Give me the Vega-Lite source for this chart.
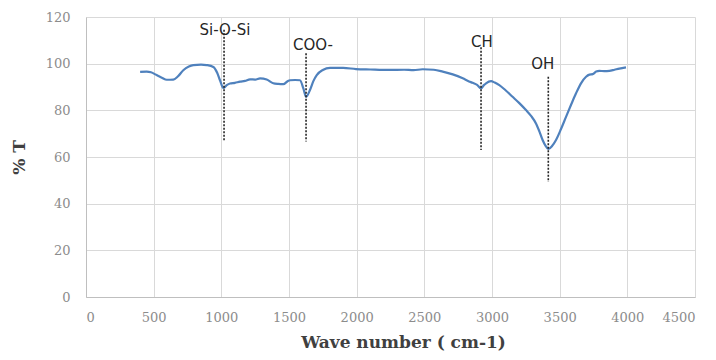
{
  "$schema": "https://vega.github.io/schema/vega-lite/v6.json",
  "width": 609,
  "height": 280,
  "autosize": "none",
  "padding": {"left": 86, "top": 17, "right": 21, "bottom": 63},
  "background": "white",
  "config": {
    "view": {"stroke": null},
    "axis": {
      "gridColor": "#d9d9d9",
      "gridWidth": 1,
      "domainColor": "#bfbfbf",
      "ticks": false,
      "labelFont": "DejaVu Serif",
      "labelFontSize": 13,
      "labelColor": "#8c8c8c",
      "titleFont": "DejaVu Serif",
      "titleFontWeight": "bold",
      "titleFontSize": 17,
      "titleColor": "#404040"
    }
  },
  "datasets": {
    "spectrum": [
      {"wn": 400, "t": 96.5}, {"wn": 448, "t": 96.6}, {"wn": 480, "t": 96.3},
      {"wn": 522, "t": 95.1}, {"wn": 560, "t": 94.0}, {"wn": 597, "t": 93.1},
      {"wn": 645, "t": 93.2}, {"wn": 680, "t": 94.6}, {"wn": 719, "t": 97.2},
      {"wn": 760, "t": 98.8}, {"wn": 793, "t": 99.4}, {"wn": 850, "t": 99.6},
      {"wn": 891, "t": 99.4}, {"wn": 941, "t": 98.6}, {"wn": 970, "t": 96.0},
      {"wn": 990, "t": 92.9}, {"wn": 1015, "t": 89.6}, {"wn": 1040, "t": 90.8},
      {"wn": 1064, "t": 91.5}, {"wn": 1100, "t": 91.8}, {"wn": 1138, "t": 92.3},
      {"wn": 1175, "t": 92.6}, {"wn": 1212, "t": 93.3}, {"wn": 1250, "t": 93.2},
      {"wn": 1286, "t": 93.7}, {"wn": 1335, "t": 93.2}, {"wn": 1384, "t": 91.6},
      {"wn": 1420, "t": 91.3}, {"wn": 1458, "t": 91.2}, {"wn": 1490, "t": 92.5},
      {"wn": 1508, "t": 92.9}, {"wn": 1545, "t": 93.0}, {"wn": 1581, "t": 92.9},
      {"wn": 1606, "t": 89.4}, {"wn": 1626, "t": 85.8}, {"wn": 1655, "t": 88.7},
      {"wn": 1680, "t": 92.5}, {"wn": 1705, "t": 95.1}, {"wn": 1750, "t": 97.3},
      {"wn": 1803, "t": 98.2}, {"wn": 1900, "t": 98.2}, {"wn": 1995, "t": 97.7},
      {"wn": 2100, "t": 97.5}, {"wn": 2241, "t": 97.3}, {"wn": 2350, "t": 97.4},
      {"wn": 2420, "t": 97.2}, {"wn": 2488, "t": 97.6}, {"wn": 2570, "t": 97.4},
      {"wn": 2636, "t": 96.6}, {"wn": 2710, "t": 95.4}, {"wn": 2784, "t": 93.7},
      {"wn": 2830, "t": 92.4}, {"wn": 2857, "t": 91.8}, {"wn": 2890, "t": 90.9},
      {"wn": 2919, "t": 89.4}, {"wn": 2940, "t": 90.8}, {"wn": 2956, "t": 91.6},
      {"wn": 2993, "t": 92.5}, {"wn": 3020, "t": 91.9}, {"wn": 3054, "t": 90.8},
      {"wn": 3100, "t": 88.6}, {"wn": 3152, "t": 85.8}, {"wn": 3200, "t": 83.2},
      {"wn": 3251, "t": 80.1}, {"wn": 3290, "t": 77.5}, {"wn": 3325, "t": 74.4},
      {"wn": 3350, "t": 71.0}, {"wn": 3374, "t": 67.3}, {"wn": 3395, "t": 64.9},
      {"wn": 3418, "t": 63.5}, {"wn": 3445, "t": 64.8}, {"wn": 3473, "t": 67.3},
      {"wn": 3510, "t": 72.0}, {"wn": 3547, "t": 77.2}, {"wn": 3585, "t": 82.5},
      {"wn": 3621, "t": 87.3}, {"wn": 3660, "t": 91.8}, {"wn": 3695, "t": 94.4},
      {"wn": 3720, "t": 95.3}, {"wn": 3744, "t": 95.5}, {"wn": 3770, "t": 96.6},
      {"wn": 3793, "t": 96.9}, {"wn": 3830, "t": 96.8}, {"wn": 3867, "t": 96.9},
      {"wn": 3905, "t": 97.4}, {"wn": 3941, "t": 97.9}, {"wn": 3990, "t": 98.4}
    ],
    "bands": [
      {"label": "Si-O-Si", "wn": 1020, "top": 114.5, "bottom": 66.6, "lx": 1027, "ly": 114.3},
      {"label": "COO-", "wn": 1626, "top": 104.5, "bottom": 66.6, "lx": 1677, "ly": 107.9},
      {"label": "CH", "wn": 2919, "top": 107.0, "bottom": 63.0, "lx": 2926, "ly": 109.3},
      {"label": "OH", "wn": 3416, "top": 94.4, "bottom": 49.3, "lx": 3375, "ly": 100.0}
    ]
  },
  "layer": [
    {
      "data": {"name": "spectrum"},
      "mark": {"type": "line", "color": "#4f81bd", "strokeWidth": 2.2, "interpolate": "monotone"},
      "encoding": {
        "x": {
          "field": "wn", "type": "quantitative",
          "scale": {"domain": [0, 4500], "nice": false},
          "axis": {"values": [0, 500, 1000, 1500, 2000, 2500, 3000, 3500, 4000, 4500], "format": "d", "labelPadding": 14, "title": "Wave number ( cm-1)", "titlePadding": 10, "titleX": 317, "titleAnchor": "middle"}
        },
        "y": {
          "field": "t", "type": "quantitative",
          "scale": {"domain": [0, 120], "nice": false},
          "axis": {"values": [0, 20, 40, 60, 80, 100, 120], "format": "d", "labelPadding": 16, "title": "% T", "titlePadding": 17, "titleY": 140}
        }
      }
    },
    {
      "data": {"name": "bands"},
      "mark": {"type": "rule", "color": "#262626", "strokeWidth": 1.6, "strokeDash": [2, 1.5]},
      "encoding": {
        "x": {"field": "wn", "type": "quantitative"},
        "y": {"field": "top", "type": "quantitative"},
        "y2": {"field": "bottom"}
      }
    },
    {
      "data": {"name": "bands"},
      "mark": {"type": "text", "font": "DejaVu Sans", "fontSize": 15, "color": "#262626", "baseline": "middle", "align": "center"},
      "encoding": {
        "x": {"field": "lx", "type": "quantitative"},
        "y": {"field": "ly", "type": "quantitative"},
        "text": {"field": "label"}
      }
    }
  ]
}
